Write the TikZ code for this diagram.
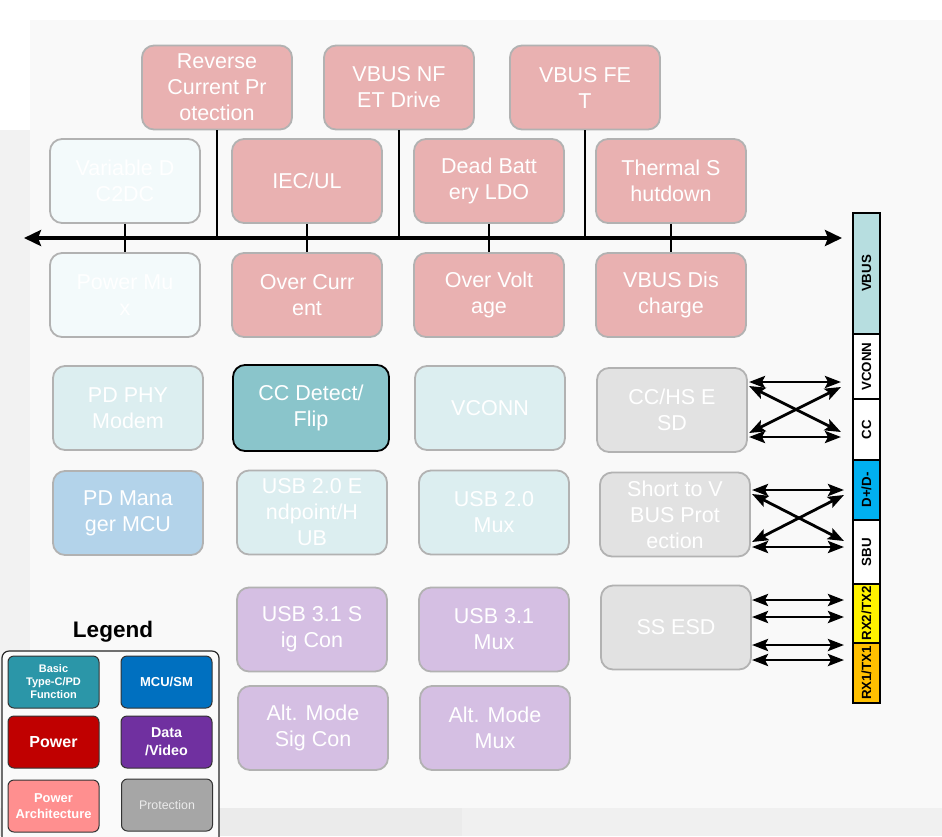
\documentclass[tikz,border=0pt]{standalone}
\usepackage{fontspec}
\setmainfont{Liberation Sans}
\usetikzlibrary{arrows.meta}
\definecolor{pinkF}{HTML}{E9B1B1}
\definecolor{boxB}{HTML}{B2B2B2}
\definecolor{tealL}{HTML}{DCEEF0}
\definecolor{tealVL}{HTML}{F3FAFB}
\definecolor{tealM}{HTML}{8AC5CB}
\definecolor{blueL}{HTML}{B3D3EA}
\definecolor{grayP}{HTML}{E2E2E2}
\definecolor{purpL}{HTML}{D5BFE3}
\definecolor{lgTeal}{HTML}{2B96A8}
\definecolor{lgBlue}{HTML}{0070C0}
\definecolor{lgRed}{HTML}{C00000}
\definecolor{lgPurp}{HTML}{7030A0}
\definecolor{lgPink}{HTML}{FF8F8F}
\definecolor{lgGray}{HTML}{A6A6A6}
\definecolor{vbusC}{HTML}{B7DEE0}
\definecolor{dpC}{HTML}{00B0F0}
\definecolor{rx1C}{HTML}{FFC000}
\tikzset{
  blk/.style={draw=boxB, line width=1.8pt, rounded corners=12pt, text=white,
    minimum width=150pt, minimum height=84pt, align=center, inner sep=0pt,
    font=\fontsize{21.5}{26}\selectfont},
  pinkbox/.style={blk, fill=pinkF},
  tealbox/.style={blk, fill=tealL},
  vlbox/.style={blk, fill=tealVL},
  graybox/.style={blk, fill=grayP},
  purpbox/.style={blk, fill=purpL},
  lgbox/.style={draw=black!80, line width=1pt, rounded corners=6pt, text=white,
    minimum width=91pt, minimum height=52pt, align=center, inner sep=0pt,
    font=\bfseries\fontsize{11}{13}\selectfont},
  seg/.style={draw=black, line width=1.5pt, minimum width=27pt, inner sep=0pt,
    font=\bfseries\fontsize{13.3}{15}\selectfont},
  link/.style={line width=1.2pt},
  dbl/.style={line width=2.8pt, {Stealth[length=16pt,width=12pt,inset=3pt]}-{Stealth[length=16pt,width=12pt,inset=3pt]}},
}
\begin{document}
\begin{tikzpicture}[x=1pt,y=-1pt]
\useasboundingbox (0,0) rectangle (942,836);
% background
\fill[white] (0,0) rectangle (942,836);
\fill[black!5] (0,130) rectangle (30,808);
\fill[black!2.5] (30,20) rectangle (942,808);
\fill[black!8] (0,808) rectangle (462,836);
\fill[black!6] (462,808) rectangle (942,836);

% top row
\node[pinkbox] (rcp)  at (217,87.5) {Reverse\\Current Pr\\otection};
\node[pinkbox] (nfet) at (399,87.5) {VBUS NF\\ET Drive};
\node[pinkbox] (fet)  at (585,87.5) {VBUS FE\\T};
% row 1
\node[vlbox]   (vdc)  at (125,181) {Variable D\\C2DC};
\node[pinkbox] (iec)  at (307,181) {IEC/UL};
\node[pinkbox] (dbl)  at (489,181) {Dead Batt\\ery LDO};
\node[pinkbox] (ths)  at (671,181) {Thermal S\\hutdown};
% row 2
\node[vlbox]   (pmux) at (125,295) {Power Mu\\x};
\node[pinkbox] (oc)   at (307,295) {Over Curr\\ent};
\node[pinkbox] (ov)   at (489,295) {Over Volt\\age};
\node[pinkbox] (vdis) at (671,295) {VBUS Dis\\charge};
% bus
\coordinate (busL) at (24,238);
\coordinate (busR) at (842,238);
\draw[link] (rcp.south) -- (rcp.south |- busL);
\draw[link] (nfet.south) -- (nfet.south |- busL);
\draw[link] (fet.south) -- (fet.south |- busL);
\draw[link] (vdc.south) -- (pmux.north);
\draw[link] (iec.south) -- (oc.north);
\draw[link] (dbl.south) -- (ov.north);
\draw[link] (ths.south) -- (vdis.north);
\draw[line width=4pt, {Stealth[length=17pt,width=16pt,inset=3pt]}-{Stealth[length=17pt,width=16pt,inset=3pt]}] (busL) -- (busR);

% row 3
\node[tealbox] (phy)  at (128,408) {PD PHY\\Modem};
\node[blk, fill=tealM, draw=black, minimum width=156pt, minimum height=86pt] (ccd) at (311,408) {CC Detect/\\Flip};
\node[tealbox] (vcn)  at (490,408) {VCONN};
\node[graybox] (cce)  at (672,410) {CC/HS E\\SD};
% row 4
\node[blk, fill=blueL] (pdm) at (128,513) {PD Mana\\ger MCU};
\node[tealbox] (u2e)  at (312,512.5) {USB 2.0 E\\ndpoint/H\\UB};
\node[tealbox] (u2m)  at (494,512.5) {USB 2.0\\Mux};
\node[graybox] (stv)  at (675,514.5) {Short to V\\BUS Prot\\ection};
% row 5
\node[purpbox] (u3s)  at (312,629.5) {USB 3.1 S\\ig Con};
\node[purpbox] (u3m)  at (494,629.5) {USB 3.1\\Mux};
\node[graybox] (sse)  at (676,627.5) {SS ESD};
% row 6
\node[purpbox] (ams)  at (313,728) {Alt. Mode\\Sig Con};
\node[purpbox] (amm)  at (495,728) {Alt. Mode\\Mux};

% connector bar
\node[seg, fill=vbusC, minimum height=121pt] (sVBUS) at (866.5,273.5) {\rotatebox{90}{VBUS}};
\node[seg, fill=white, minimum height=65pt] (sVCONN) at (866.5,366.5) {\rotatebox{90}{VCONN}};
\node[seg, fill=white, minimum height=61pt] (sCC) at (866.5,429.5) {\rotatebox{90}{CC}};
\node[seg, fill=dpC, minimum height=60pt] (sDP) at (866.5,490) {\rotatebox{90}{D+/D-}};
\node[seg, fill=white, minimum height=64pt] (sSBU) at (866.5,552) {\rotatebox{90}{SBU}};
\node[seg, fill=yellow, minimum height=59pt] (sRX2) at (866.5,613.5) {\rotatebox{90}{RX2/TX2}};
\node[seg, fill=rx1C, minimum height=60pt] (sRX1) at (866.5,673) {\rotatebox{90}{RX1/TX1}};

% right arrows: CC/HS ESD
\coordinate (a1l) at (749,382); \coordinate (a1r) at (841,382);
\coordinate (a2l) at (749,437); \coordinate (a2r) at (841,437);
\coordinate (a3l) at (749,386); \coordinate (a3r) at (841,432);
\coordinate (a4l) at (749,433); \coordinate (a4r) at (841,387);
\draw[dbl] (a1l) -- (a1r);
\draw[dbl] (a2l) -- (a2r);
\draw[dbl] (a3l) -- (a3r);
\draw[dbl] (a4l) -- (a4r);
% Short to VBUS
\coordinate (b1l) at (752,490); \coordinate (b1r) at (844,490);
\coordinate (b2l) at (752,547); \coordinate (b2r) at (844,547);
\coordinate (b3l) at (752,494); \coordinate (b3r) at (844,541);
\coordinate (b4l) at (752,542); \coordinate (b4r) at (844,495);
\draw[dbl] (b1l) -- (b1r);
\draw[dbl] (b2l) -- (b2r);
\draw[dbl] (b3l) -- (b3r);
\draw[dbl] (b4l) -- (b4r);
% SS ESD
\foreach \yy/\nm in {600/c1,617/c2,645/c3,660/c4}{
  \coordinate (\nm l) at (752,\yy); \coordinate (\nm r) at (844,\yy);
  \draw[dbl] (\nm l) -- (\nm r);
}

% legend
\node[font=\bfseries\fontsize{22.5}{26}\selectfont] (lgt) at (113,632) {Legend};
\draw[line width=1.2pt, draw=black!85, rounded corners=7pt, fill=black!2] (2,651) rectangle (219,850);
\node[lgbox, fill=lgTeal] (lg1) at (53.5,682) {Basic\\Type-C/PD\\Function};
\node[lgbox, fill=lgBlue, font=\bfseries\fontsize{13}{15}\selectfont] (lg2) at (166.5,682) {MCU/SM};
\node[lgbox, fill=lgRed, font=\bfseries\fontsize{16}{18}\selectfont] (lg3) at (53.5,742) {Power};
\node[lgbox, fill=lgPurp, font=\bfseries\fontsize{14.3}{18}\selectfont] (lg4) at (166.5,742) {Data\\/Video};
\node[lgbox, fill=lgPink, font=\bfseries\fontsize{12.9}{15.5}\selectfont] (lg5) at (53.5,806) {Power\\Architecture};
\node[lgbox, fill=lgGray, text=black!8, font=\fontsize{12.4}{14}\selectfont] (lg6) at (167,805) {Protection};
\end{tikzpicture}
\end{document}
